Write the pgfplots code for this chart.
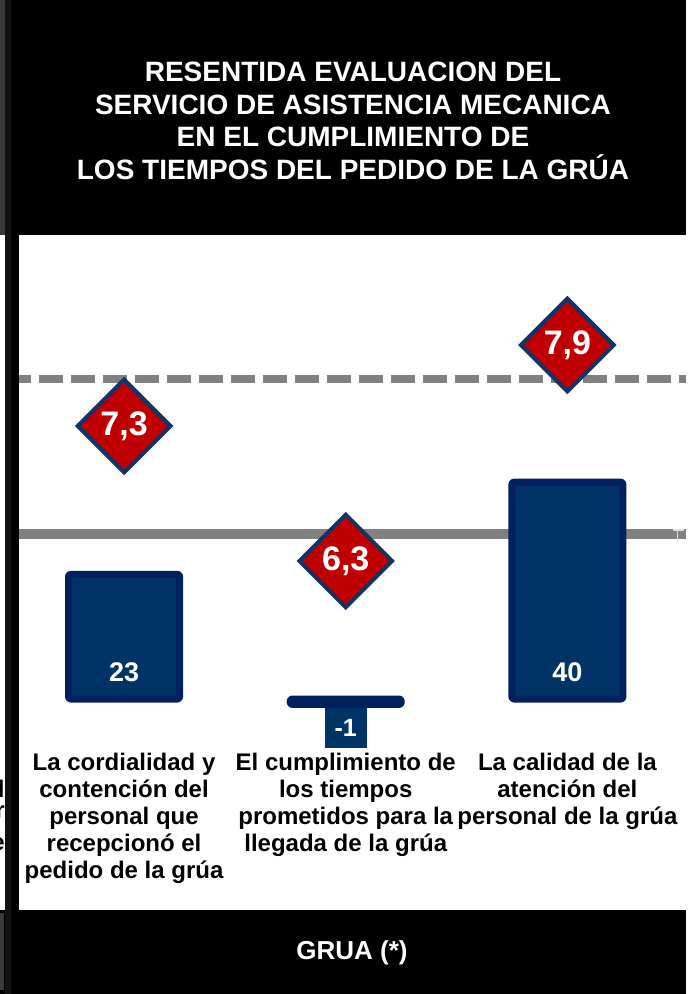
\documentclass[border=0pt]{standalone}
\usepackage{pgfplots}
\pgfplotsset{compat=1.18}
\usepackage{fontspec}
\setmainfont{Liberation Sans}
\definecolor{barfill}{HTML}{003366}
\definecolor{barline}{HTML}{00205F}
\definecolor{dred}{HTML}{C00000}
\definecolor{dline}{HTML}{0E3566}
\definecolor{refgray}{HTML}{808080}

% shared geometry of the overlaid axes (1px = 0.5pt, y counted from the bottom)
\pgfplotsset{
  panel/.style={
    at={(9.5pt,129.5pt)}, anchor=south west,
    width=333.5pt, height=250pt, scale only axis,
    xmin=-0.474, xmax=2.535,
    clip=false,
  },
  hscale/.style={ymin=5.011, ymax=8.715},
}

\begin{document}
\begin{tikzpicture}
\begin{scope}[x=0.5pt,y=0.5pt]
\fill[white] (0,0) rectangle (686,994);
\fill[black] (0,759) rectangle (686,994);
\fill[black] (0,0) rectangle (686,84);

% fragments of the neighbouring chart at the left edge
\begin{pgfinterruptboundingbox}
\begin{scope}
\clip (0,84) rectangle (5,759);
\node[anchor=east, font=\bfseries\fontsize{12}{13.5}\selectfont, inner sep=0pt] at (5,205) {del};
\node[anchor=east, font=\bfseries\fontsize{12}{13.5}\selectfont, inner sep=0pt] at (5,179) {por};
\node[anchor=east, font=\bfseries\fontsize{12}{13.5}\selectfont, inner sep=0pt] at (5,152) {de};
\end{scope}
\end{pgfinterruptboundingbox}
\fill[black!93] (5,0) rectangle (11,994);
\fill[black] (11,0) rectangle (19,994);
\fill[black!78] (0,759) rectangle (5,994);
\fill[black!77] (0,4) rectangle (4,81);

\node[white, font=\bfseries\fontsize{14}{16.3}\selectfont, align=center] at (353,873)
  {RESENTIDA EVALUACION DEL\\SERVICIO DE ASISTENCIA MECANICA\\EN EL CUMPLIMIENTO DE\\LOS TIEMPOS DEL PEDIDO DE LA GRÚA};
\node[white, font=\bfseries\fontsize{13}{15}\selectfont] at (352,41) {GRUA (*)};
\end{scope}

% reference lines
\begin{axis}[panel, hscale, hide axis]
\addplot[refgray, line width=5pt] coordinates {(-0.474,6.5) (2.535,6.5)};
\addplot[refgray, line width=4pt, dash pattern=on 12pt off 4pt, dash phase=6pt] coordinates {(-0.474,7.65) (2.535,7.65)};
\end{axis}

% bars
\begin{axis}[panel,
  ymin=-6.64, ymax=85.6,
  axis line style={draw=none},
  tick style={draw=none},
  ytick=\empty,
  xtick={0,1,2},
  xticklabels={{La cordialidad y\\contención del\\personal que\\recepcionó el\\pedido de la grúa},
               {El cumplimiento de\\los tiempos\\prometidos para la\\llegada de la grúa},
               {La calidad de la\\atención del\\personal de la grúa}},
  xticklabel style={align=center, text=black, font=\bfseries\fontsize{12}{13.5}\selectfont, yshift=-5.5pt},
]
\addplot[ybar, bar width=55.5pt, fill=barfill, draw=barline, line width=3.5pt, line join=round, rounded corners=1pt]
  coordinates {(0,23) (1,-1) (2,40)};
\addplot[only marks, mark=none, nodes near coords, point meta=explicit symbolic,
  nodes near coords align={center},
  every node near coord/.append style={anchor=center, text=white, font=\bfseries\fontsize{13.5}{13.5}\selectfont}]
  table[meta=lab] {
x y lab
0 5 23
2 5 40
};
\addplot[only marks, mark=none, nodes near coords, point meta=explicit symbolic,
  nodes near coords align={center},
  every node near coord/.append style={anchor=center, text=white, fill=barfill, minimum width=21pt, minimum height=20pt, inner sep=0pt, font=\bfseries\fontsize{12.5}{12.5}\selectfont}]
  table[meta=lab] {
x y lab
1 -5.4 -1
};
\end{axis}

% diamonds
\begin{axis}[panel, hscale, hide axis]
\addplot[only marks, mark=square*, mark size=16.4pt,
  mark options={rotate=45, fill=dred, draw=dline, line width=2pt},
  nodes near coords, point meta=explicit symbolic,
  nodes near coords align={center},
  every node near coord/.append style={anchor=center, text=white, font=\bfseries\fontsize{17}{17}\selectfont}]
  table[meta=lab] {
x y lab
0 7.3 7,3
1 6.3 6,3
2 7.9 7,9
};
\end{axis}

% small light tick mark at the right end of the solid line
\begin{scope}[x=0.5pt,y=0.5pt]
\draw[black!12, line width=0.6pt] (673,464) -- (684,464) (677.5,464) -- (677.5,452);
\end{scope}
\end{tikzpicture}
\end{document}
